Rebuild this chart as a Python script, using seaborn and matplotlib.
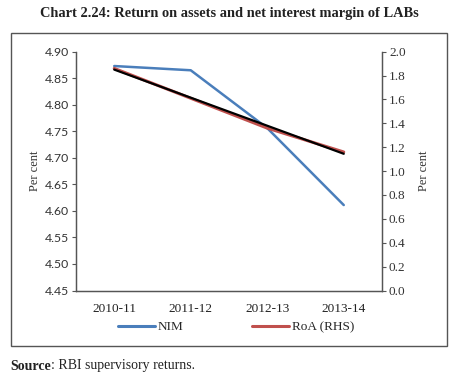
import matplotlib
matplotlib.use("Agg")
import matplotlib.pyplot as plt
import seaborn as sns
import numpy as np
import pandas as pd
from matplotlib.patches import Rectangle
from matplotlib.lines import Line2D

years = ["2010-11", "2011-12", "2012-13", "2013-14"]
nim = [4.873, 4.865, 4.756, 4.611]
roa = [1.86, 1.61, 1.36, 1.16]

sns.set_style("white")
plt.rcParams['font.family'] = ['Liberation Serif', 'DejaVu Serif']

W, H = 459, 379
fig = plt.figure(figsize=(W/100, H/100), dpi=100)

def fx(px): return px / W
def fy(py): return 1 - py / H

ax = fig.add_axes([fx(76), fy(290.5), fx(382) - fx(76), fy(51.7) - fy(290.5)])
ax2 = ax.twinx()

pos = np.arange(len(years)) + 0.5
df = pd.DataFrame({"pos": pos, "NIM": nim, "RoA": roa})

sns.lineplot(data=df, x="pos", y="NIM", ax=ax, color="#4a7ebb", lw=1.8, legend=False)
sns.lineplot(data=df, x="pos", y="RoA", ax=ax2, color="#c0504d", lw=2.2, legend=False)
sns.regplot(data=df, x="pos", y="RoA", ax=ax2, scatter=False, ci=None, truncate=True,
            line_kws=dict(color="black", lw=1.6))

ax.set_xlim(0, 4)
ax.set_ylim(4.45, 4.90)
ax.set_yticks(np.arange(4.45, 4.901, 0.05))
ax.set_yticklabels([f"{v:.2f}" for v in np.arange(4.45, 4.901, 0.05)],
                   family=['Lato', 'DejaVu Sans'], fontsize=8.8, color="#333333")
ax2.set_ylim(0, 2.0)
ax2.set_yticks(np.arange(0, 2.01, 0.2))
ax2.set_yticklabels([f"{v:.1f}" for v in np.arange(0, 2.01, 0.2)], fontsize=9.5, color="#333333")

ax.set_xticks([0, 1, 2, 3, 4])
ax.set_xticklabels([])
ax.set_xticks(pos, minor=True)
ax.set_xticklabels(years, minor=True, fontsize=9.5, color="#222222")
ax.tick_params(axis="x", which="minor", length=0, pad=9)
ax.tick_params(axis="x", which="major", length=4, direction="out", color="#555555", width=0.8)
ax.tick_params(axis="y", length=3, direction="out", color="#555555", width=0.8, pad=2, left=True)
ax2.tick_params(axis="y", length=3, direction="out", color="#555555", width=0.8, pad=2, right=True)

ax.set_xlabel("")
ax.set_ylabel("Per cent", fontsize=9, labelpad=3, color="#333333")
ax2.set_ylabel("Per cent", fontsize=9, labelpad=9, color="#333333")
ax2.set_xlabel("")

for a in (ax, ax2):
    a.spines["top"].set_visible(False)
    for s in ("left", "right", "bottom"):
        a.spines[s].set_color("#555555")
        a.spines[s].set_linewidth(0.9)
    a.grid(False)
    a.set_facecolor("none")

handles = [Line2D([], [], color="#4a7ebb", lw=2.2), Line2D([], [], color="#c0504d", lw=2.2)]
fig.legend(handles, ["NIM", "RoA (RHS)"], loc="center", bbox_to_anchor=(fx(236), fy(327)),
           ncol=2, frameon=False, fontsize=9.5, handlelength=2.8, handletextpad=0.2,
           columnspacing=5.2, borderpad=0, borderaxespad=0)

fig.patches.append(Rectangle((fx(10.5), fy(346)), fx(447) - fx(10.5), fy(33) - fy(346),
                             transform=fig.transFigure, fill=False, edgecolor="#555555", lw=1.0))

fig.text(0.5, fy(14), "Chart 2.24: Return on assets and net interest margin of LABs",
         ha="center", va="center", fontsize=10.4, fontweight="bold", color="#222222")
src = fig.text(fx(10), fy(366), "Source", ha="left", va="center", fontsize=10,
               fontweight="bold", color="#222222")
fig.canvas.draw()
bb = src.get_window_extent(renderer=fig.canvas.get_renderer())
x_end = fig.transFigure.inverted().transform((bb.x1, bb.y0))[0]
fig.text(x_end, fy(366), ": RBI supervisory returns.", ha="left", va="center",
         fontsize=10, color="#222222")

fig.savefig("out.png", dpi=100)
